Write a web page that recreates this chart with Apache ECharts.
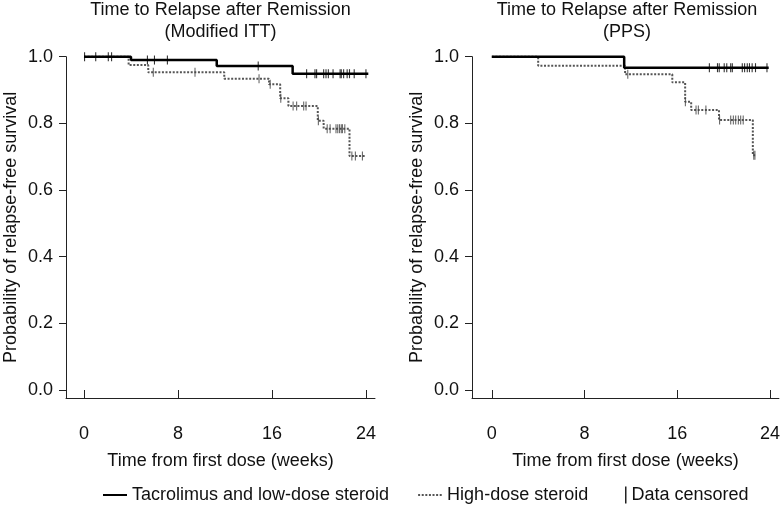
<!DOCTYPE html>
<html><head><meta charset="utf-8">
<script src="https://cdn.jsdelivr.net/npm/echarts@6/dist/echarts.min.js"></script>
<style>html,body{margin:0;padding:0;background:#fff}#c{width:783px;height:506px}</style>
</head><body><div id="c"></div>
<script>
// ---- data ----
const xTicks = [0, 8, 16, 24];
const yTicks = [0, 0.2, 0.4, 0.6, 0.8, 1.0];
const panelTitles = ['Time to Relapse after Remission\n(Modified ITT)', 'Time to Relapse after Remission\n(PPS)'];
const xName = 'Time from first dose (weeks)';
const yName = 'Probability of relapse-free survival';
const tacName = 'Tacrolimus and low-dose steroid';
const highName = 'High-dose steroid';
const censorName = 'Data censored';

// Modified ITT
const mittTacTime = [0, 4.0, 11.3, 17.76, 24.2];
const mittTacSurv = [1.0, 0.99, 0.972, 0.949, 0.949];
const mittTacCensor = [0.05, 1.0, 2.07, 2.35, 5.4, 6.0, 7.1, 14.83, 18.95, 19.66, 19.8, 20.4, 20.6, 20.8, 21.2, 21.8, 21.9, 22.1, 22.4, 22.6, 23.0, 24.0];
const mittHighTime = [0, 3.8, 5.47, 11.94, 15.75, 16.7, 17.4, 19.9, 20.4, 22.6, 23.9];
const mittHighSurv = [1.0, 0.975, 0.953, 0.934, 0.917, 0.875, 0.852, 0.808, 0.784, 0.702, 0.702];
const mittHighCensor = [5.9, 9.45, 14.9, 15.85, 16.75, 17.8, 18.1, 18.7, 18.9, 19.95, 20.7, 20.95, 21.45, 21.6, 21.75, 21.9, 22.0, 22.2, 22.8, 23.1, 23.7];

// PPS
const ppsTacTime = [0, 11.42, 23.89];
const ppsTacSurv = [1.0, 0.967, 0.967];
const ppsTacCensor = [18.77, 19.47, 19.62, 20.05, 20.27, 20.61, 20.75, 21.61, 21.81, 22.04, 22.23, 22.46, 22.75, 23.74];
const ppsHighTime = [0, 4.0, 11.5, 15.57, 16.68, 17.2, 19.6, 22.52, 22.75];
const ppsHighSurv = [1.0, 0.973, 0.947, 0.923, 0.865, 0.84, 0.81, 0.704, 0.704];
const ppsHighCensor = [11.73, 16.7, 17.62, 17.82, 18.47, 19.65, 20.61, 20.84, 21.04, 21.27, 21.47, 21.69, 22.6, 22.7];

// ---- layout / style ----
const FONT = 'Liberation Sans, Arial, Helvetica, sans-serif';
const FS = 18;
const panels = [
  {title: panelTitles[0], left: 66, width: 309, xMin: -1.53, xMax: 24.77,
   tac: [mittTacTime, mittTacSurv, mittTacCensor], high: [mittHighTime, mittHighSurv, mittHighCensor]},
  {title: panelTitles[1], left: 472, width: 310, xMin: -1.71, xMax: 24.77,
   tac: [ppsTacTime, ppsTacSurv, ppsTacCensor], high: [ppsHighTime, ppsHighSurv, ppsHighCensor]}
];
const gridTop = 56.7, gridHeight = 341.3;
const yMin = -0.024, yMax = 1.0;

function stepPoints(times, surv) { return times.map((t, i) => [t, surv[i]]); }
function levelAt(times, surv, t) {
  let idx = 0;
  for (let i = 0; i < times.length; i++) if (times[i] <= t) idx = i;
  return surv[idx];
}
function censorPoints(times, surv, cens) { return cens.map(t => [t, levelAt(times, surv, t)]); }

const option = {
  animation: false,
  backgroundColor: '#fff',
  title: [], grid: [], xAxis: [], yAxis: [], series: [],
  legend: [
    {data: [tacName, highName], left: 97, top: 481, itemWidth: 24, itemHeight: 14, itemGap: 28,
     itemStyle: {opacity: 0},
     textStyle: {fontFamily: FONT, fontSize: FS, color: '#111'}},
    {data: [{name: censorName, icon: 'rect', itemStyle: {color: '#222', opacity: 1}}], left: 620, top: 481,
     itemWidth: 1.5, itemHeight: 17, textStyle: {fontFamily: FONT, fontSize: FS, color: '#111'}}
  ]
};

panels.forEach((p, gi) => {
  option.title.push({text: p.title, left: p.left + p.width / 2, top: -1, padding: 0, textAlign: 'center',
    textStyle: {fontFamily: FONT, fontSize: FS, fontWeight: 'normal', color: '#111', lineHeight: 22}});
  option.grid.push({left: p.left, top: gridTop, width: p.width, height: gridHeight, containLabel: false});
  // tick axis (detached below the box)
  option.xAxis.push({type: 'value', gridIndex: gi, min: p.xMin, max: p.xMax, position: 'bottom', offset: 6,
    axisLine: {show: false},
    axisTick: {show: true, customValues: xTicks, length: 9, inside: false, lineStyle: {color: '#222', width: 1}},
    axisLabel: {show: true, customValues: xTicks, margin: 21, fontFamily: FONT, fontSize: FS, color: '#111'},
    splitLine: {show: false},
    name: xName, nameLocation: 'middle', nameGap: 48,
    nameTextStyle: {fontFamily: FONT, fontSize: FS, color: '#111'}});
  // box bottom line
  option.xAxis.push({type: 'value', gridIndex: gi, min: p.xMin, max: p.xMax, position: 'bottom', offset: 0,
    axisLine: {show: true, onZero: false, lineStyle: {color: '#222', width: 1}},
    axisTick: {show: false}, axisLabel: {show: false}, splitLine: {show: false}});
  option.yAxis.push({type: 'value', gridIndex: gi, min: yMin, max: yMax, position: 'left',
    axisLine: {show: true, onZero: false, lineStyle: {color: '#222', width: 1}},
    axisTick: {show: true, customValues: yTicks, length: 7, inside: false, lineStyle: {color: '#222', width: 1}},
    axisLabel: {show: true, customValues: yTicks, margin: 13, fontFamily: FONT, fontSize: FS, color: '#111',
      formatter: v => v.toFixed(1)},
    splitLine: {show: false},
    name: yName, nameLocation: 'middle', nameGap: 46,
    nameTextStyle: {fontFamily: FONT, fontSize: FS, color: '#111'}});
  const xi = gi * 2;
  option.series.push({type: 'line', name: highName, xAxisIndex: xi, yAxisIndex: gi, step: 'end',
    data: stepPoints(p.high[0], p.high[1]), symbol: 'none', clip: false, z: 2,
    lineStyle: {color: '#555', width: 2, type: [2, 1.6]}, itemStyle: {color: '#555'}});
  option.series.push({type: 'line', name: tacName, xAxisIndex: xi, yAxisIndex: gi, step: 'end',
    data: stepPoints(p.tac[0], p.tac[1]), symbol: 'none', clip: false, z: 3,
    lineStyle: {color: '#000', width: 2.5, type: 'solid'}, itemStyle: {color: '#000'}});
  option.series.push({type: 'scatter', name: censorName, xAxisIndex: xi, yAxisIndex: gi,
    data: censorPoints(p.high[0], p.high[1], p.high[2]), symbol: 'rect', symbolSize: [1.1, 9], clip: false, z: 4,
    itemStyle: {color: '#444'}});
  option.series.push({type: 'scatter', name: censorName, xAxisIndex: xi, yAxisIndex: gi,
    data: censorPoints(p.tac[0], p.tac[1], p.tac[2]), symbol: 'rect', symbolSize: [1.1, 9], clip: false, z: 5,
    itemStyle: {color: '#000'}});
});

const chart = echarts.init(document.getElementById('c'), null, {renderer: 'canvas'});
chart.setOption(option);
</script>
</body></html>
